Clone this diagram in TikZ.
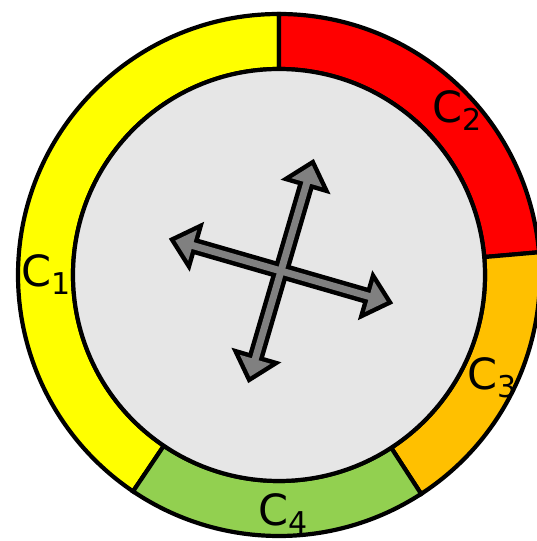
\documentclass[tikz,border=0pt]{standalone}
\usepackage{fontspec}
\setmainfont{DejaVu Sans}
\usepackage{xcolor}

\definecolor{segyellow}{HTML}{FFFF00}
\definecolor{segred}{HTML}{FF0000}
\definecolor{segorange}{HTML}{FFC000}
\definecolor{seggreen}{HTML}{92D050}
\definecolor{hubgray}{HTML}{E6E6E6}
\newcommand{\seglabel}[1]{C\raisebox{-8pt}{\fontsize{30}{30}\selectfont #1}}

\begin{document}
\begin{tikzpicture}[x=1pt,y=1pt,
  ring/.style={draw=black,line width=4.2pt},
  arrowedge/.style={fill=black,draw=black,line width=9pt},
  arrowfill/.style={fill=gray},
  lbl/.style={anchor=base west,inner sep=0pt,font=\fontsize{43}{43}\selectfont}]
\useasboundingbox (0,0) rectangle (536,541);
\def\Ro{261}
\def\Ri{206}
\begin{scope}[shift={(279,266)}]
% outer ring
\filldraw[ring,fill=segyellow] (90:\Ro) arc[start angle=90,end angle=236,radius=\Ro] -- (236:\Ri) arc[start angle=236,end angle=90,radius=\Ri] -- cycle;
\filldraw[ring,fill=segred] (5:\Ro) arc[start angle=5,end angle=90,radius=\Ro] -- (90:\Ri) arc[start angle=90,end angle=5,radius=\Ri] -- cycle;
\filldraw[ring,fill=segorange] (-57:\Ro) arc[start angle=-57,end angle=5,radius=\Ro] -- (5:\Ri) arc[start angle=5,end angle=-57,radius=\Ri] -- cycle;
\filldraw[ring,fill=seggreen] (-124:\Ro) arc[start angle=-124,end angle=-57,radius=\Ro] -- (-57:\Ri) arc[start angle=-57,end angle=-124,radius=\Ri] -- cycle;
% hub
\filldraw[ring,fill=hubgray] (0,0) circle[radius=\Ri];
\end{scope}
% cross of arrows
\begin{scope}[shift={(281,270)}]
\foreach \r in {73.7,-16.1}
  \filldraw[arrowedge,rotate=\r] (110,0) -- (92,16) -- (92,3.5) -- (-92,3.5) -- (-92,16) -- (-110,0) -- (-92,-16) -- (-92,-3.5) -- (92,-3.5) -- (92,-16) -- cycle;
\foreach \r in {73.7,-16.1}
  \fill[arrowfill,rotate=\r] (110,0) -- (92,16) -- (92,3.5) -- (-92,3.5) -- (-92,16) -- (-110,0) -- (-92,-16) -- (-92,-3.5) -- (92,-3.5) -- (92,-16) -- cycle;
\end{scope}
% labels
\node[lbl] (c1) at (21,254) {\seglabel{1}};
\node[lbl] (c2) at (432,418) {\seglabel{2}};
\node[lbl] (c3) at (467,151) {\seglabel{3}};
\node[lbl] (c4) at (258,15) {\seglabel{4}};
\end{tikzpicture}
\end{document}
